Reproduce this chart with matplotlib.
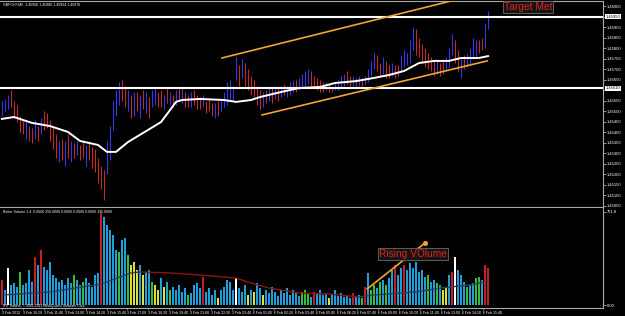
import numpy as np
import matplotlib
matplotlib.use("Agg")
import matplotlib.pyplot as plt
from matplotlib.collections import LineCollection
from matplotlib.transforms import blended_transform_factory

plt.rcParams['font.family'] = ['Liberation Sans', 'DejaVu Sans']

# ---------------- data ----------------
symbol_header = "GBPCHF,M5  1.45956 1.45980 1.45954 1.45976"
volume_header = "Better Volume 1.4  0.0000 250.0000 0.0000 0.0000 0.0000 196.0000"
copyright_text = "IFX Traders, \u00a9 2001-2012 MetaQuotes Software Corp."

highs = [1.4555,1.4556,1.4558,1.4560,1.4555,1.4553,1.4548,1.4546,1.4545,1.4543,
         1.4542,1.4546,1.4543,1.4547,1.4550,1.4549,1.4546,1.4542,1.4539,1.4536,
         1.4537,1.4536,1.4539,1.4536,1.4535,1.4536,1.4534,1.4536,1.4534,1.4536,
         1.4533,1.4532,1.4528,1.4524,1.4522,1.4536,1.4543,1.4555,1.4560,1.4564,
         1.4565,1.4562,1.4560,1.4558,1.4559,1.4559,1.4558,1.4560,1.4559,1.4557,
         1.4560,1.4561,1.4559,1.4560,1.4558,1.4561,1.4559,1.4558,1.4560,1.4561,
         1.4562,1.4559,1.4558,1.4559,1.4560,1.4558,1.4557,1.4558,1.4555,1.4556,
         1.4554,1.4554,1.4555,1.4556,1.4559,1.4564,1.4565,1.4562,1.4576,1.4572,
         1.4575,1.4573,1.4570,1.4567,1.4565,1.4562,1.4560,1.4559,1.4560,1.4562,
         1.4561,1.4562,1.4562,1.4562,1.4563,1.4562,1.4564,1.4565,1.4565,1.4566,
         1.4568,1.4569,1.4570,1.4569,1.4567,1.4566,1.4565,1.4564,1.4564,1.4563,
         1.4562,1.4564,1.4565,1.4567,1.4568,1.4569,1.4567,1.4567,1.4566,1.4567,
         1.4566,1.4567,1.4570,1.4574,1.4578,1.4577,1.4573,1.4576,1.4574,1.4572,
         1.4573,1.4572,1.4572,1.4577,1.4579,1.4578,1.4584,1.4590,1.4589,1.4585,
         1.4582,1.4580,1.4578,1.4576,1.4574,1.4575,1.4573,1.4574,1.4576,1.4580,
         1.4587,1.4584,1.4579,1.4575,1.4577,1.4578,1.4580,1.4585,1.4584,1.4584,
         1.4585,1.4592,1.4598]
lows = [1.4548,1.4550,1.4551,1.4552,1.4547,1.4545,1.4540,1.4539,1.4537,1.4536,
        1.4535,1.4537,1.4536,1.4539,1.4541,1.4542,1.4536,1.4532,1.4528,1.4526,
        1.4527,1.4524,1.4528,1.4526,1.4528,1.4529,1.4527,1.4528,1.4524,1.4527,
        1.4523,1.4521,1.4516,1.4513,1.4508,1.4520,1.4527,1.4541,1.4548,1.4553,
        1.4555,1.4552,1.4550,1.4547,1.4548,1.4550,1.4547,1.4551,1.4549,1.4547,
        1.4552,1.4553,1.4552,1.4552,1.4551,1.4554,1.4553,1.4552,1.4553,1.4555,
        1.4554,1.4552,1.4552,1.4552,1.4553,1.4551,1.4551,1.4552,1.4549,1.4550,
        1.4548,1.4547,1.4548,1.4550,1.4552,1.4553,1.4555,1.4555,1.4565,1.4562,
        1.4566,1.4562,1.4560,1.4558,1.4557,1.4553,1.4551,1.4552,1.4554,1.4555,
        1.4554,1.4556,1.4555,1.4557,1.4558,1.4557,1.4558,1.4559,1.4559,1.4560,
        1.4561,1.4562,1.4563,1.4562,1.4561,1.4560,1.4559,1.4559,1.4560,1.4559,
        1.4559,1.4560,1.4560,1.4561,1.4562,1.4563,1.4562,1.4562,1.4562,1.4562,
        1.4562,1.4563,1.4564,1.4567,1.4570,1.4569,1.4567,1.4568,1.4566,1.4566,
        1.4567,1.4566,1.4567,1.4569,1.4571,1.4572,1.4573,1.4579,1.4577,1.4576,
        1.4573,1.4571,1.4570,1.4569,1.4567,1.4568,1.4567,1.4568,1.4569,1.4571,
        1.4577,1.4573,1.4569,1.4566,1.4570,1.4571,1.4572,1.4575,1.4576,1.4578,
        1.4579,1.4580,1.4589]
# bar direction: u = close above open (blue), d = close below open (red)
directions = ("uuudddddud" "dududddddu" "dudududdud" "ddddduuuuu" "ddudududud"
              "uuddududud" "uddudddudd" "duduuuuuud" "uddddddudu" "dududuuudu"
              "uuudddddud" "duuuuddudu" "duuuuddudd" "udduuuuudd" "dddddudduu"
              "udduduuuud" "duu")

ma_bar = [0, 4, 10, 16, 22, 26, 32, 35, 38, 42, 47, 53, 56, 58, 60, 66, 74, 78,
          83, 86, 93, 99, 106, 111, 118, 124, 129, 134, 139, 144, 149, 153, 159, 162]
ma_value = [1.45464, 1.45473, 1.45445, 1.45430, 1.45402, 1.45359, 1.45340, 1.45307,
            1.45307, 1.45354, 1.45397, 1.45449, 1.45506, 1.45545, 1.45554, 1.45559,
            1.45554, 1.45545, 1.45554, 1.45568, 1.45592, 1.45611, 1.45616, 1.45635,
            1.45644, 1.45659, 1.45673, 1.45692, 1.45730, 1.45740, 1.45740, 1.45754,
            1.45754, 1.45763]

level_lines = [1.4595, 1.4561]
upper_channel = ([73.3, 151.0], [1.45754, 1.46030])
lower_channel = ([86.7, 161.7], [1.45483, 1.45740])

volumes = [202,121,299,162,178,145,267,162,178,283,
           186,388,323,444,307,283,347,242,218,186,
           202,162,218,178,242,202,162,186,218,178,
           145,242,259,743,711,646,606,566,444,428,
           525,541,404,323,347,283,323,242,267,283,
           186,162,121,218,145,186,121,145,121,162,
           105,137,81,97,162,178,137,226,105,137,
           81,121,57,121,145,202,186,121,218,137,
           105,162,81,121,105,178,137,81,121,97,
           145,105,73,121,97,137,81,121,97,73,
           105,121,89,65,105,97,121,81,97,57,
           89,121,73,97,65,81,57,97,65,81,
           57,145,259,121,162,137,186,202,162,218,
           283,323,242,299,323,283,339,299,347,267,
           283,226,242,186,202,178,162,121,137,242,
           267,388,283,242,186,145,162,178,218,226,
           202,323,299]
# b neutral, r climax, g churn, y low, w high churn
volume_class = ("rbwbbbgbbb" "brbrbbbbbb" "bbbbgbbgbb" "bbbrbbbbbg" "bbgyyybybb"
                "gyybybgbbb" "bbgbbbbrbb" "bbybbbbbwb" "bbybybbybb" "bbbbbbbbbb"
                "gggbrbbbby" "bbbbbbbrbb" "grbggbgbgb" "brbbrbbbbb" "bbgbbgbyyb"
                "rwbbbgbbgg" "brr")
vma_bar = [0, 16, 33, 43, 46, 56, 66, 78, 83, 89, 99, 109, 119, 124, 129, 138, 146, 156, 162]
vma_value = [81, 105, 170, 259, 267, 259, 242, 218, 178, 137, 97, 89, 65, 81, 89, 105, 137, 162, 194]
volume_arrow = ([121.7, 141.0], [129, 501])

time_labels = ["3 Feb 2012", "3 Feb 10:20", "3 Feb 11:40", "3 Feb 13:00", "3 Feb 14:20",
               "3 Feb 15:40", "3 Feb 17:00", "3 Feb 18:20", "3 Feb 19:40", "3 Feb 21:00",
               "3 Feb 22:20", "3 Feb 23:40", "6 Feb 01:00", "6 Feb 02:20", "6 Feb 03:40",
               "6 Feb 05:00", "6 Feb 06:20", "6 Feb 07:40", "6 Feb 09:00", "6 Feb 10:20",
               "6 Feb 11:40", "6 Feb 13:00", "6 Feb 14:20", "6 Feb 15:40"]

# ---------------- layout ----------------
W, H = 625, 316
BG = 'black'
GRID = '#a8a8a8'
ORANGE = '#f2a531'
vol_colors = {'b': '#1e9edb', 'r': '#c41e26', 'g': '#34bf3c', 'y': '#dfe234', 'w': '#ffffff'}

def rect(x0, y0, x1, y1):
    return [x0 / W, 1 - y1 / H, (x1 - x0) / W, (y1 - y0) / H]

fig = plt.figure(figsize=(W / 100, H / 100), dpi=100, facecolor=BG)
ax = fig.add_axes(rect(0, 1, 603, 207), facecolor=BG)
axv = fig.add_axes(rect(0, 208, 603, 308), facecolor=BG)

n = len(highs)
x = np.arange(n)
xlim = (-0.667, 200.33)

# price bars
cols = ['#3636ea' if d == 'u' else '#c62b2b' for d in directions]
ax.vlines(x, lows, highs, colors=cols, linewidth=0.8)
for lv in level_lines:
    ax.axhline(lv, color='white', lw=1.5, zorder=3)
ax.plot(ma_bar, ma_value, color='white', lw=1.4, zorder=4, solid_joinstyle='round')
ax.plot(*upper_channel, color=ORANGE, lw=1.2, zorder=5)
ax.plot(*lower_channel, color=ORANGE, lw=1.2, zorder=5)
ax.set_xlim(*xlim)
ax.set_ylim(1.4504468, 1.4602524)

ax.yaxis.tick_right()
yt = np.arange(1.4505, 1.46001, 0.0005)
ax.set_yticks(yt)
ax.set_yticklabels(["" if min(abs(v - lv) for lv in level_lines) < 0.00025 else f"{v:.5f}"
                    for v in yt])
ax.tick_params(axis='y', colors=GRID, labelcolor='white', labelsize=3.0,
               length=2, width=0.6, pad=1)
ax.tick_params(axis='x', bottom=False, labelbottom=False)
trans = blended_transform_factory(ax.transAxes, ax.transData)
for lv in level_lines:
    ax.text(1.004, lv, f"{lv:.5f}", transform=trans, fontsize=3.0, color='black',
            va='center', ha='left', clip_on=False, zorder=6,
            bbox=dict(facecolor='white', edgecolor='none', pad=0.4))

# volume panel
axv.bar(x, volumes, width=0.85, color=[vol_colors[c] for c in volume_class], linewidth=0)
pts = np.column_stack([vma_bar, vma_value])
segs = np.stack([pts[:-1], pts[1:]], axis=1)
seg_cols = ['#2f3d5c' if b[1] > a[1] else '#8e1414' for a, b in zip(pts[:-1], pts[1:])]
axv.add_collection(LineCollection(segs, colors=seg_cols, linewidths=1.0, zorder=3))
axv.plot(*volume_arrow, color=ORANGE, lw=1.2, zorder=6)
axv.plot(volume_arrow[0][-1], volume_arrow[1][-1], 'o', color=ORANGE, ms=2.6, zorder=6)
axv.set_xlim(*xlim)
axv.set_ylim(-24.2, 783.8)
axv.yaxis.tick_right()
axv.set_yticks([0, 751.8])
axv.set_yticklabels(["0.00", "751.8"])
axv.tick_params(axis='y', colors=GRID, labelcolor='white', labelsize=3.0,
                length=2, width=0.6, pad=1)
tick_pos = np.arange(len(time_labels)) * 6.97
axv.set_xticks(tick_pos)
axv.set_xticklabels(time_labels, ha='left')
axv.tick_params(axis='x', colors=GRID, labelcolor='white', labelsize=2.5,
                length=1.5, width=0.5, pad=0.3)

for a in (ax, axv):
    a.spines['left'].set_visible(False)
    for s in ('top', 'bottom', 'right'):
        a.spines[s].set_color(GRID)
        a.spines[s].set_linewidth(0.8)
axv.spines['top'].set_visible(False)

# texts
fig.text(3 / W, 1 - 4.5 / H, symbol_header, fontsize=2.6, color='white', va='center', ha='left')
fig.text(3 / W, 1 - 212 / H, volume_header, fontsize=2.5, color='white', va='center', ha='left')
fig.text(3 / W, 1 - 306.3 / H, copyright_text, fontsize=2.4, color='white', va='center', ha='left')
fig.text(528 / W, 1 - 7 / H, "Target Met", fontsize=7.4, color='#e4231c', ha='center', va='center',
         bbox=dict(facecolor='#141414', edgecolor='#6a6a6a', linewidth=0.6, pad=0.8), zorder=10)
fig.text(413 / W, 1 - 254 / H, "Rising VOlume", fontsize=7.3, color='#e4231c', ha='center', va='center',
         bbox=dict(facecolor='#141414', edgecolor='#6a6a6a', linewidth=0.6, pad=0.8), zorder=1)

fig.savefig('out.png', dpi=100, facecolor=BG)
